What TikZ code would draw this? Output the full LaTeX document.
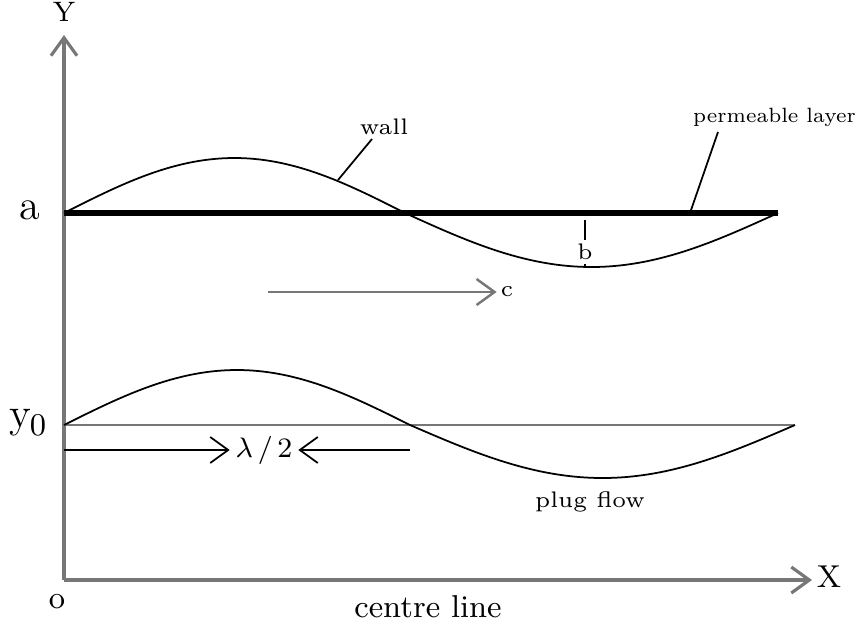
\documentclass[tikz,border=0pt]{standalone}
\usetikzlibrary{arrows.meta}
\definecolor{axis-gray}{HTML}{777777}

\begin{document}
\begin{tikzpicture}[>={Straight Barb[length=1.8mm,width=2.6mm]},
      every node/.style={font=\small},
      axisline/.style={draw=axis-gray, line width=0.9pt},
      thinwave/.style={draw=black, line width=0.5pt},
      smalllabel/.style={font=\fontsize{6.4}{8}\selectfont, inner sep=1pt}]
    \useasboundingbox (-0.64,-0.48) rectangle (7.91,5.80);
    % axes
    \coordinate (O) at (0,0);
    \coordinate (Ytip) at (0,5.45);
    \coordinate (Xtip) at (7.48,0);
    \draw[axisline, ->] (O) -- (Ytip);
    \draw[axisline, ->] (O) -- (Xtip);
    \node (Ylab) at (0,5.68) {\footnotesize Y};
    \node (Xlab) at (7.65,0.03) {X};
    \node (Olab) at (-0.07,-0.22) {o};
    \node (centre) at (3.64,-0.27) {centre line};
    % wall and permeable layer
    \node (alab) at (-0.34,3.70) {\large a};
    \coordinate (L0) at (0,3.67);
    \coordinate (L1) at (7.14,3.67);
    \draw[thinwave] plot[domain=0:3.41, samples=60, smooth]
          (\x, {3.67+0.55*sin(180*\x/3.41)})
        -- plot[domain=3.41:7.14, samples=60, smooth]
          (\x, {3.67-0.54*sin(180*(\x-3.41)/3.73)});
    \draw[line width=1.6pt] (L0) -- (L1);
    \node[smalllabel] (wall) at (3.20,4.53) {wall};
    \coordinate (wallpt) at (2.74,4.00);
    \coordinate (wallend) at (3.08,4.41);
    \draw[thinwave] (wallpt) -- (wallend);
    \node[smalllabel, anchor=west] (perm) at (6.25,4.63)
          {\scalebox{0.84}{\scriptsize permeable layer}};
    \coordinate (permpt) at (6.26,3.67);
    \coordinate (permend) at (6.54,4.48);
    \draw[thinwave] (permpt) -- (permend);
    % amplitude b
    \node[smalllabel] (blab) at (5.21,3.28) {b};
    \coordinate (btop) at (5.21,3.60);
    \coordinate (bbot) at (5.21,3.13);
    \draw[thinwave] (btop) -- (blab.north);
    \draw[thinwave] (blab.south) -- (bbot);
    % wave speed
    \node[smalllabel] (clab) at (4.43,2.88) {c};
    \coordinate (cstart) at (2.04,2.88);
    \draw[axisline, line width=0.7pt, ->] (cstart) -- (clab.west);
    % plug flow
    \node (y0lab) at (-0.36,1.57) {\large y\kern-0.5pt\raisebox{-0.4ex}{\small 0}};
    \coordinate (P0) at (0,1.55);
    \coordinate (P1) at (7.31,1.55);
    \draw[axisline, line width=0.6pt] (P0) -- (P1);
    \draw[thinwave] plot[domain=0:3.46, samples=60, smooth]
          (\x, {1.55+0.55*sin(180*\x/3.46)})
        -- plot[domain=3.46:7.31, samples=60, smooth]
          (\x, {1.55-0.53*sin(180*(\x-3.46)/3.85)});
    \node[smalllabel] (plug) at (5.26,0.78) {plug flow};
    % half wavelength
    \node[font=\footnotesize, inner sep=1.5pt] (lam) at (2.0,1.30) {$\lambda$\,/\,2};
    \coordinate (lamL) at (0,1.30);
    \coordinate (lamR) at (3.46,1.30);
    \draw[thinwave, ->] (lamL) -- (lam.west);
    \draw[thinwave, ->] (lamR) -- (lam.east);
  \end{tikzpicture}
\end{document}
